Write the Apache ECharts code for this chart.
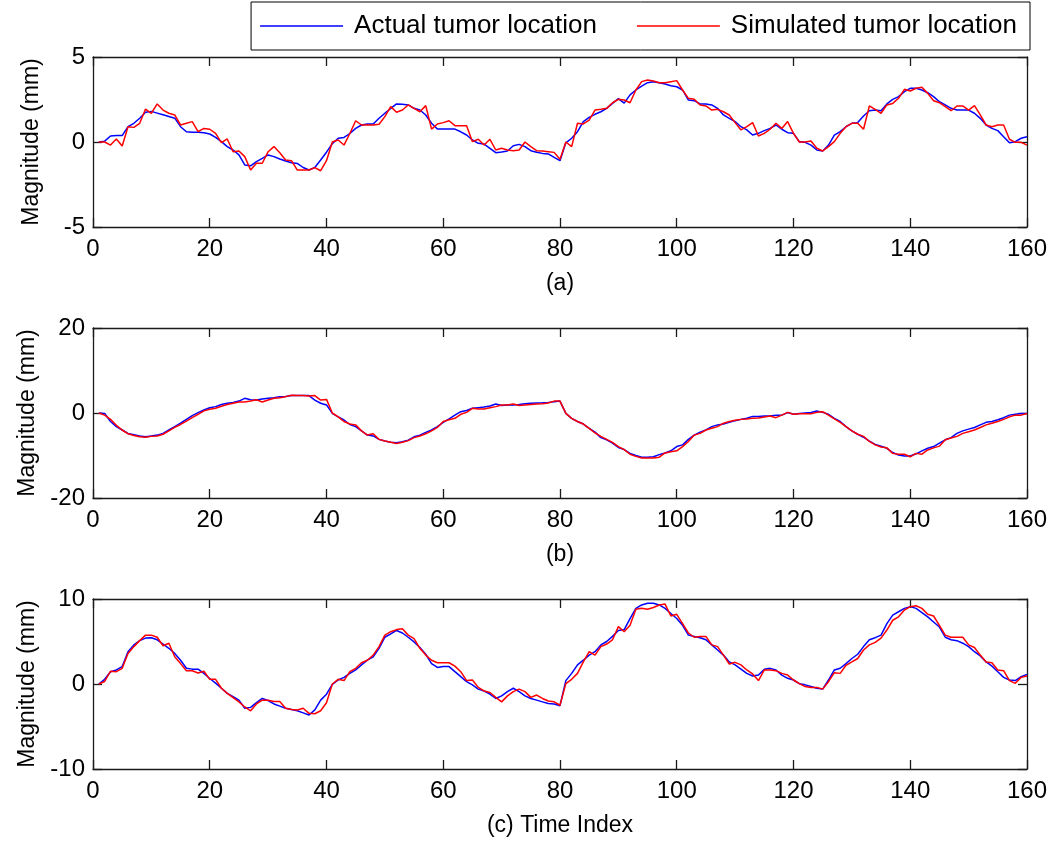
<!DOCTYPE html>
<html>
<head>
<meta charset="utf-8">
<script src="https://cdn.jsdelivr.net/npm/echarts@6/dist/echarts.min.js"></script>
<style>
html,body{margin:0;padding:0;background:#fff;}
#chart{width:1050px;height:841px;}
</style>
</head>
<body>
<div id="chart"></div>
<script>
// ---- data (index 1..160) ----
const xTicks = [0, 20, 40, 60, 80, 100, 120, 140, 160];
const panelTitles = ['(a)', '(b)', '(c) Time Index'];
const yRanges = [[-5, 5, 5], [-20, 20, 20], [-10, 10, 10]];
const seriesNames = ['Actual tumor location', 'Simulated tumor location'];

const aActual = [0,0.05,0.35,0.38,0.38,0.9,1.1,1.4,1.75,1.8,1.7,1.6,1.5,1.4,0.9,0.6,0.57,0.57,0.55,0.47,0.27,0.02,-0.27,-0.47,-0.76,-1.35,-1.4,-1.15,-0.96,-0.76,-0.86,-1.0,-1.12,-1.22,-1.26,-1.5,-1.65,-1.5,-1.06,-0.6,-0.1,0.22,0.27,0.5,0.8,1.0,1.06,1.06,1.4,1.69,1.98,2.24,2.22,2.18,1.98,1.88,1.59,1.1,0.76,0.76,0.76,0.76,0.6,0.41,0.12,-0.08,-0.12,-0.37,-0.63,-0.59,-0.53,-0.22,-0.14,-0.27,-0.51,-0.6,-0.67,-0.7,-0.9,-1.1,-0.05,0.22,0.61,1.2,1.45,1.63,1.78,1.98,2.27,2.55,2.29,2.77,3.06,3.29,3.49,3.55,3.49,3.41,3.31,3.25,3.06,2.47,2.43,2.24,2.24,2.18,1.98,1.59,1.39,1.2,0.9,0.71,0.41,0.51,0.67,0.8,1.0,0.75,0.55,0.51,0.02,-0.02,-0.18,-0.47,-0.53,-0.18,0.41,0.61,0.9,1.1,1.14,1.53,1.84,1.88,1.84,2.24,2.51,2.67,2.96,3.16,3.16,3.06,2.9,2.67,2.37,2.18,1.98,1.88,1.88,1.88,1.69,1.39,1.0,0.8,0.67,0.31,-0.04,0.02,0.22,0.31];
const aSim = [0,0,-0.18,0.18,-0.24,0.9,0.86,1.1,1.94,1.69,2.24,1.88,1.69,1.59,1.0,1.1,1.2,0.61,0.8,0.75,0.51,-0.04,0.18,-0.57,-0.53,-0.86,-1.65,-1.25,-1.25,-0.57,-0.27,-0.63,-1.06,-1.1,-1.65,-1.65,-1.65,-1.51,-1.69,-1.1,0.0,0.12,-0.18,0.5,1.25,1.0,1.0,1.0,1.04,1.49,2.08,1.75,1.88,2.18,1.98,1.78,2.14,0.76,1.06,1.14,1.25,0.96,0.96,0.96,0.02,0.16,-0.18,0.16,-0.47,-0.37,-0.47,-0.51,-0.47,0.0,-0.27,-0.51,-0.53,-0.57,-0.61,-1.02,0.0,-0.27,1.1,1.06,1.29,1.88,1.92,1.98,2.31,2.51,2.47,2.31,3.06,3.55,3.65,3.59,3.49,3.49,3.55,3.61,3.06,2.57,2.51,2.18,2.12,1.88,1.92,1.78,1.59,1.14,0.71,0.9,1.14,0.35,0.51,0.75,1.1,0.8,1.2,0.51,0.0,0.0,0.06,-0.37,-0.53,-0.27,0.02,0.51,0.9,1.1,1.1,0.75,2.12,1.92,1.69,2.18,2.27,2.57,3.1,3.0,3.16,3.22,2.86,2.43,2.31,2.08,1.84,2.12,2.12,1.88,2.14,1.59,1.0,0.9,1.0,1.0,0.16,-0.02,-0.02,-0.18];
const bActual = [0,-0.1,-2.0,-3.2,-4.0,-4.8,-5.1,-5.4,-5.6,-5.4,-5.2,-4.8,-4.0,-3.2,-2.4,-1.5,-0.6,0.1,0.7,1.25,1.5,2.0,2.3,2.5,2.8,3.45,3.1,3.05,3.3,3.45,3.6,3.85,3.9,4.1,4.1,4.1,4.1,3.05,2.3,1.9,-0.1,-0.9,-1.65,-2.7,-3.2,-4.2,-5.2,-5.4,-6.2,-6.6,-6.9,-7.0,-6.75,-6.4,-5.6,-5.2,-4.55,-4.0,-3.2,-2.2,-1.4,-0.5,0.3,0.6,1.1,1.25,1.4,1.65,2.1,1.75,1.9,1.9,2.0,2.2,2.3,2.35,2.4,2.5,2.65,2.8,-0.1,-1.25,-2.0,-2.6,-3.6,-4.5,-5.8,-6.3,-7.1,-8.1,-8.6,-9.5,-10.0,-10.4,-10.4,-10.3,-9.8,-9.4,-8.9,-7.9,-7.5,-6.2,-5.2,-4.5,-4.0,-3.2,-2.8,-2.6,-2.2,-1.8,-1.5,-1.25,-0.8,-0.8,-0.7,-0.7,-0.5,-0.5,0.1,-0.3,-0.1,0,0.1,0.45,0.15,-0.3,-1.25,-2.0,-3.2,-4.2,-5.0,-5.7,-6.6,-7.4,-7.8,-8.3,-9.3,-9.9,-10.1,-10.1,-9.6,-8.9,-8.3,-7.9,-7.1,-6.3,-5.8,-4.8,-4.2,-3.8,-3.4,-2.8,-2.2,-2.0,-1.6,-1.1,-0.5,-0.3,-0.1,-0.1];
const bSim = [0,-0.5,-1.5,-2.9,-4.0,-4.9,-5.3,-5.6,-5.7,-5.5,-5.4,-5.0,-4.2,-3.4,-2.7,-1.9,-1.1,-0.3,0.5,0.9,1.1,1.6,2.0,2.3,2.6,2.6,2.8,3.1,2.6,3.05,3.45,3.6,3.85,4.2,4.1,4.1,4.0,4.1,3.05,3.2,0,-0.9,-2.0,-2.6,-2.8,-4.2,-5.2,-4.9,-6.2,-6.6,-6.9,-7.2,-6.9,-6.5,-5.8,-5.4,-4.9,-4.2,-3.4,-2.0,-1.6,-1.25,-0.3,0.15,1.1,0.95,0.95,1.25,1.5,1.9,1.9,2.1,1.75,1.9,2.0,2.1,2.2,2.35,2.8,2.8,-0.1,-1.25,-2.0,-2.6,-3.6,-4.7,-5.5,-6.2,-6.9,-7.9,-8.6,-9.7,-10.2,-10.6,-10.6,-10.6,-10.4,-9.4,-9.1,-8.9,-7.9,-6.7,-5.2,-4.8,-4.0,-3.6,-3.2,-2.4,-2.0,-1.7,-1.5,-1.4,-1.25,-1.2,-0.95,-0.7,-1.1,-0.5,0.15,-0.3,-0.2,-0.2,-0.2,0.15,0.3,-0.5,-1.4,-2.2,-3.2,-4.2,-5.0,-5.5,-6.7,-7.5,-8.0,-8.2,-9.5,-9.7,-9.7,-10.3,-9.5,-9.7,-8.7,-8.2,-7.8,-6.3,-5.9,-5.5,-4.8,-4.4,-4.0,-3.4,-2.8,-2.4,-2.0,-1.5,-0.9,-0.5,-0.5,-0.1];
const cActual = [0,0.55,1.45,1.65,2.05,3.8,4.6,5.1,5.4,5.45,5.2,4.7,4.2,3.6,2.8,1.85,1.75,1.75,1.25,0.65,0.1,-0.5,-1.1,-1.5,-1.9,-2.85,-2.75,-2.2,-1.7,-1.95,-2.35,-2.6,-2.85,-3.0,-3.15,-3.4,-3.65,-3.05,-1.9,-1.2,-0.05,0.47,0.78,1.25,1.65,2.25,2.8,3.2,4.2,5.5,5.9,6.3,6.0,5.5,4.95,4.3,3.5,2.4,1.95,2.05,2.05,1.45,0.86,0.27,-0.1,-0.6,-0.82,-1.18,-1.7,-1.4,-0.9,-0.5,-0.9,-1.4,-1.7,-1.9,-2.1,-2.3,-2.35,-2.55,0.4,1.25,2.25,2.8,3.4,3.8,4.6,5.0,5.6,6.3,6.4,7.7,8.9,9.3,9.5,9.5,9.3,8.9,8.3,7.7,6.9,5.75,5.6,5.45,5.2,4.6,4.0,3.4,2.6,2.25,1.75,1.25,0.94,1.05,1.73,1.84,1.65,1.05,0.67,0.47,0.04,-0.1,-0.3,-0.5,-0.6,0.47,1.65,1.85,2.4,3.0,3.5,4.4,5.2,5.45,5.75,7.1,8.1,8.5,8.9,9.1,8.9,8.4,7.9,7.3,6.7,5.5,5.2,5.1,4.8,4.4,3.8,3.3,2.6,2.1,1.45,0.78,0.47,0.4,0.86,1.13];
const cSim = [0,0.3,1.5,1.45,1.85,3.6,4.4,5.1,5.75,5.75,5.5,4.5,4.8,3.2,2.4,1.55,1.55,1.3,1.5,0.55,0.55,-0.5,-1.1,-1.6,-2.1,-2.7,-3.15,-2.35,-1.9,-1.9,-2.05,-2.05,-2.85,-3.0,-3.05,-2.85,-3.45,-3.5,-3.15,-2.2,0,0.55,0.4,1.45,1.85,2.5,2.8,3.4,4.4,5.75,6.15,6.4,6.5,5.75,5.35,4.2,3.4,2.8,2.5,2.5,2.5,2.1,1.45,0.4,0.47,-0.4,-0.82,-1.0,-1.57,-2.1,-1.4,-0.9,-0.6,-0.9,-1.57,-1.3,-1.7,-2.0,-2.1,-2.5,0.04,0.55,1.25,2.6,3.8,3.4,4.4,4.7,5.2,6.75,6.15,6.9,8.8,8.9,8.8,9.0,9.3,9.4,8.0,8.2,7.1,6.0,5.5,5.6,5.6,4.6,4.4,3.4,2.35,2.55,2.25,1.65,1.18,0.4,1.65,1.65,1.57,1.25,1.05,0.47,0.04,-0.3,-0.4,-0.4,-0.6,0.27,1.33,1.25,2.2,2.6,3.0,4.0,4.6,4.9,5.4,6.35,7.5,7.9,8.7,9.1,9.2,8.9,8.2,8.0,6.9,5.75,5.5,5.5,5.5,4.6,4.3,3.4,2.6,2.5,1.65,1.57,0.4,0.08,0.78,0.94];

const panels = [[aActual, aSim], [bActual, bSim], [cActual, cSim]];
const colors = ['#0000ff', '#ff0000'];

// ---- layout ----
const FONT = 'Liberation Sans, Arial, Helvetica, sans-serif';
const AX = '#1a1a1a';
const gridTops = [57, 328, 599];
const grids = [], xAxes = [], yAxes = [], series = [];

panels.forEach((p, g) => {
  grids.push({left: 93, top: gridTops[g], width: 934, height: 170, containLabel: false});
  const [ymin, ymax, yint] = yRanges[g];
  xAxes.push({
    type: 'value', gridIndex: g, min: 0, max: 160, interval: 20, position: 'bottom',
    axisLine: {show: true, onZero: false, lineStyle: {color: AX, width: 1.3}},
    axisTick: {show: true, inside: true, length: 9, lineStyle: {color: AX, width: 1.3}},
    axisLabel: {show: true, color: '#000', fontFamily: FONT, fontSize: 24, margin: 10},
    splitLine: {show: false},
    name: panelTitles[g], nameLocation: 'middle', nameGap: 45,
    nameTextStyle: {color: '#000', fontFamily: FONT, fontSize: 23}
  });
  xAxes.push({
    type: 'value', gridIndex: g, min: 0, max: 160, interval: 20, position: 'top',
    axisLine: {show: true, onZero: false, lineStyle: {color: AX, width: 1.3}},
    axisTick: {show: true, inside: true, length: 9, lineStyle: {color: AX, width: 1.3}},
    axisLabel: {show: false}, splitLine: {show: false}
  });
  yAxes.push({
    type: 'value', gridIndex: g, min: ymin, max: ymax, interval: yint, position: 'left',
    axisLine: {show: true, onZero: false, lineStyle: {color: AX, width: 1.3}},
    axisTick: {show: true, inside: true, length: 9, lineStyle: {color: AX, width: 1.3}},
    axisLabel: {show: true, color: '#000', fontFamily: FONT, fontSize: 24, margin: 8},
    splitLine: {show: false},
    name: 'Magnitude (mm)', nameLocation: 'middle', nameGap: 50,
    nameTextStyle: {color: '#000', fontFamily: FONT, fontSize: 23}
  });
  yAxes.push({
    type: 'value', gridIndex: g, min: ymin, max: ymax, interval: yint, position: 'right',
    axisLine: {show: true, onZero: false, lineStyle: {color: AX, width: 1.3}},
    axisTick: {show: true, inside: true, length: 9, lineStyle: {color: AX, width: 1.3}},
    axisLabel: {show: false}, splitLine: {show: false}
  });
  p.forEach((arr, k) => {
    series.push({
      name: seriesNames[k], type: 'line', xAxisIndex: g * 2, yAxisIndex: g * 2,
      data: arr.map((v, i) => [i + 1, v]),
      symbol: 'none', animation: false, z: 2 + k,
      lineStyle: {color: colors[k], width: 1.5}, itemStyle: {color: colors[k]}
    });
  });
});

const chart = echarts.init(document.getElementById('chart'), null, {renderer: 'canvas'});
chart.setOption({
  backgroundColor: '#fff',
  animation: false,
  textStyle: {fontFamily: FONT},
  legend: {
    data: seriesNames, right: 20, top: 2, orient: 'horizontal', icon: 'rect',
    backgroundColor: '#fff', borderColor: '#000', borderWidth: 1,
    padding: [11, 13, 11, 9], itemGap: 40, itemWidth: 83, itemHeight: 1.5,
    textStyle: {color: '#000', fontFamily: FONT, fontSize: 26, padding: [0, 0, 0, 6]}
  },
  grid: grids, xAxis: xAxes, yAxis: yAxes, series: series
});
</script>
</body>
</html>
